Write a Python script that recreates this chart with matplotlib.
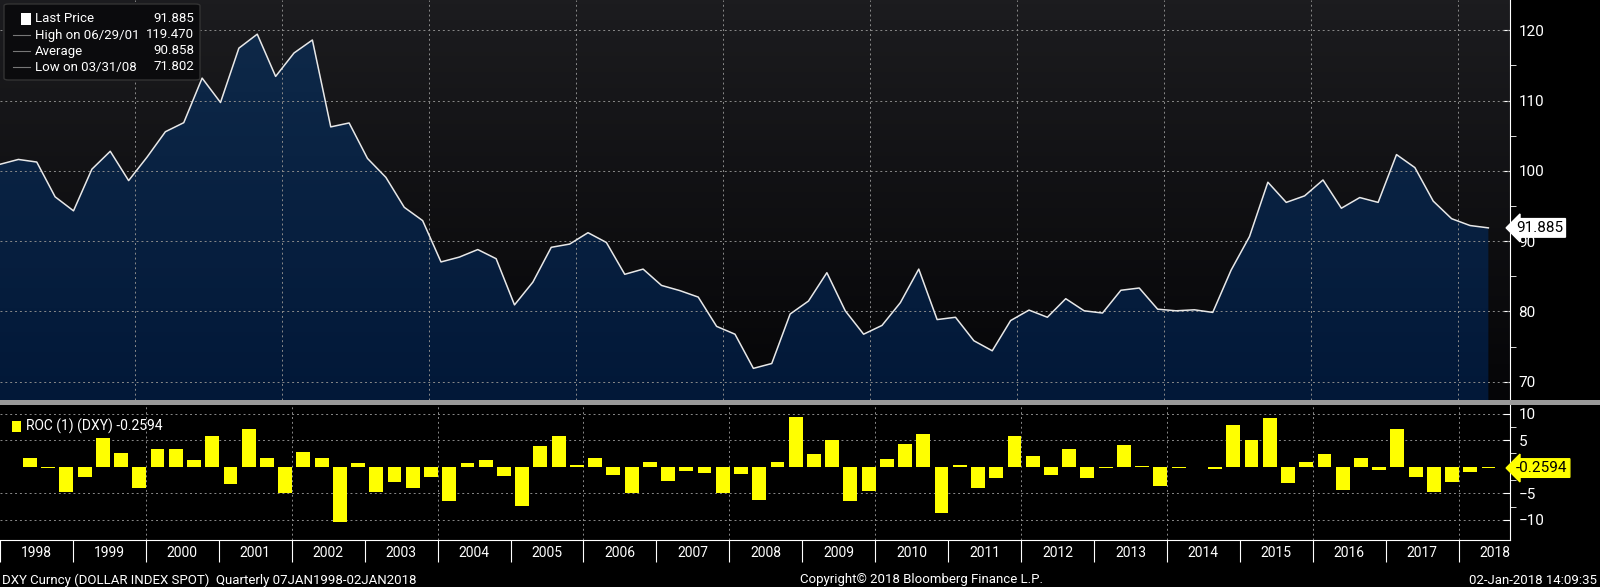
import matplotlib
matplotlib.use("Agg")
import matplotlib.pyplot as plt
import numpy as np
from matplotlib.patches import FancyBboxPatch, Rectangle

# DXY quarterly closes, 1998 -> Jan 2018
price = [100.93, 101.62, 101.25, 96.30, 94.31, 100.23, 102.78, 98.61, 101.94, 105.56,
         106.85, 113.19, 109.72, 117.45, 119.44, 113.43, 116.76, 118.61, 106.25, 106.81,
         101.76, 99.07, 94.81, 92.92, 87.04, 87.73, 88.80, 87.50, 80.93, 84.17,
         89.12, 89.58, 91.20, 89.81, 85.28, 86.02, 83.70, 82.96, 82.04, 77.87,
         76.76, 71.90, 72.59, 79.63, 81.48, 85.51, 80.09, 76.76, 78.01, 81.25,
         86.02, 78.84, 79.17, 75.83, 74.40, 78.70, 80.19, 79.17, 81.81, 80.09,
         79.77, 83.01, 83.33, 80.32, 80.09, 80.23, 79.86, 85.88, 90.65, 98.38,
         95.51, 96.44, 98.70, 94.68, 96.20, 95.51, 102.31, 100.46, 95.69, 93.19,
         92.22, 91.885]
roc = [1.7, -0.3, -4.8, -2.0, 5.3, 2.6, -4.1, 3.3, 3.3, 1.2,
       5.8, -3.3, 7.0, 1.7, -5.0, 2.8, 1.6, -10.4, 0.7, -4.7,
       -2.9, -4.1, -2.0, -6.4, 0.7, 1.2, -1.7, -7.4, 3.8, 5.8,
       0.35, 1.7, -1.5, -5.0, 0.9, -2.7, -0.8, -1.2, -5.0, -1.3,
       -6.2, 0.9, 9.4, 2.4, 5.1, -6.4, -4.5, 1.5, 4.2, 6.2,
       -8.7, 0.4, -4.1, -2.1, 5.8, 2.0, -1.6, 3.3, -2.1, -0.3,
       4.0, 0.2, -3.6, -0.3, -0.1, -0.5, 7.8, 5.1, 9.1, -3.0,
       0.9, 2.4, -4.3, 1.6, -0.7, 7.1, -1.9, -4.8, -2.8, -1.0,
       -0.2594]
years = list(range(1998, 2019))

START = 1998.16
xs = START + 0.25 * np.arange(len(price))
XL = (START, START + 1510 / 73.5)

W, H = 1600, 587
plt.rcParams["font.family"] = ["Roboto", "DejaVu Sans"]
fig = plt.figure(figsize=(16, 5.87), dpi=100, facecolor="black")
GRID = dict(color="#8a8a8a", ls=(0, (2, 3)), lw=0.7)
FS = 10

# ---- top panel ---------------------------------------------------------
ax = fig.add_axes([0, 1 - 400 / H, 1510 / W, 400 / H])
ax.set_xlim(*XL)
ax.set_ylim(67.4, 124.3)
bg = np.linspace(0, 1, 100).reshape(-1, 1)
ax.imshow(bg, extent=[*XL, 67.4, 124.3], aspect="auto", origin="lower", zorder=0,
          cmap=matplotlib.colors.LinearSegmentedColormap.from_list("bg", ["#050507", "#1c1c1f"]))
fill = ax.fill_between(xs, price, 60, color="none", lw=0)
grad = ax.imshow(bg, extent=[*XL, 67.4, 124.3], aspect="auto", origin="lower", zorder=1,
                 cmap=matplotlib.colors.LinearSegmentedColormap.from_list("f", ["#021838", "#0f2a4a"]))
grad.set_clip_path(fill.get_paths()[0], transform=ax.transData)
ax.plot(xs, price, color="#e8e8e8", lw=1.1, zorder=3)
for y in range(70, 121, 10):
    ax.axhline(y, zorder=2, **GRID)
for yr in range(2000, 2019, 2):
    ax.axvline(yr, zorder=2, **GRID)
ax.yaxis.tick_right()
ax.set_yticks(range(70, 121, 10))
ax.set_yticks(range(75, 121, 10), minor=True)
ax.set_xticks([])
ax.tick_params(axis="y", colors="white", labelsize=FS + 1, length=5, direction="in", pad=6)
ax.tick_params(axis="y", which="minor", colors="white", length=4)
for s in ax.spines.values():
    s.set_visible(False)
ax.spines["right"].set_visible(True)
ax.spines["right"].set_color("white")
ax.text(1.004, (price[-1] - 67.4) / (124.3 - 67.4), f"{price[-1]:.3f}", transform=ax.transAxes,
        color="black", fontsize=FS + 1, va="center", ha="left",
        bbox=dict(boxstyle="larrow,pad=0.15", fc="white", ec="white"), clip_on=False)

# legend box (top-left)
fig.add_artist(FancyBboxPatch((4 / W, 1 - 80 / H), 196 / W, 76 / H,
                              boxstyle="round,pad=0,rounding_size=0.003",
                              transform=fig.transFigure, fc="#0b0b0d", ec="#333333", zorder=5))
rows = [("Last Price", f"{price[-1]:.3f}"), ("High on 06/29/01", "119.470"),
        ("Average", "90.858"), ("Low on 03/31/08", "71.802")]
for i, (lab, val) in enumerate(rows):
    y = 1 - (19 + i * 16) / H
    fig.text(35 / W, y, lab, color="white", fontsize=9.5, va="center", zorder=6)
    fig.text(194 / W, y, val, color="white", fontsize=9.5, va="center", ha="right", zorder=6)
fig.add_artist(Rectangle((21 / W, 1 - 25 / H), 10 / W, 12 / H, transform=fig.transFigure,
                         fc="white", zorder=6))
for i in range(1, 4):
    y = 1 - (19 + i * 16) / H
    fig.add_artist(plt.Line2D([13 / W, 30 / W], [y, y], color="#777777", lw=0.8, zorder=6))

# separator
fig.add_artist(Rectangle((0, 1 - 405 / H), 1, 5 / H, transform=fig.transFigure, fc="#9a9a9a"))

# ---- bottom panel ------------------------------------------------------
ax2 = fig.add_axes([0, 47 / H, 1510 / W, 135 / H], facecolor="black")
ax2.set_xlim(*XL)
ax2.set_ylim(-13.8, 11.6)
ax2.bar(xs[1:], roc, width=0.19, color="#ffff00", zorder=3)
for y in (-10, -5, 5, 10):
    ax2.axhline(y, zorder=1, **GRID)
for yr in range(2000, 2019, 2):
    ax2.axvline(yr, zorder=1, **GRID)
ax2.yaxis.tick_right()
ax2.set_yticks([-10, -5, 5, 10])
ax2.set_yticks([-7.5, -2.5, 2.5, 7.5], minor=True)
ax2.tick_params(axis="y", colors="white", labelsize=FS + 1, length=5, direction="in", pad=6)
ax2.tick_params(axis="y", which="minor", colors="white", length=4)
ax2.set_xticks(years)
ax2.set_xticklabels([])
ax2.set_xticks([y + 0.5 for y in years], minor=True)
ax2.set_xticklabels([str(y) for y in years], minor=True)
ax2.tick_params(axis="x", colors="white", length=16, width=0.8, direction="out")
ax2.tick_params(axis="x", which="minor", length=0, labelsize=FS, labelcolor="white", pad=4)
for s in ax2.spines.values():
    s.set_visible(False)
ax2.spines["right"].set_visible(True)
ax2.spines["right"].set_color("white")
ax2.spines["bottom"].set_visible(True)
ax2.spines["bottom"].set_color("white")
ax2.text(1.004, (roc[-1] + 13.8) / 25.4, f"{roc[-1]:.4f}", transform=ax2.transAxes,
         color="black", fontsize=FS + 1, va="center", ha="left",
         bbox=dict(boxstyle="larrow,pad=0.15", fc="#ffff00", ec="#ffff00"), clip_on=False)
ax2.add_patch(Rectangle((12 / 1510, 0.8), 9 / 1510, 0.08, transform=ax2.transAxes,
                        fc="#ffff00", zorder=6))
ax2.text(26 / 1510, 0.84, f"ROC (1) (DXY) {roc[-1]:.4f}", transform=ax2.transAxes,
         color="white", fontsize=FS, va="center", zorder=6)

# footer
fig.text(2 / W, 7 / H, "DXY Curncy (DOLLAR INDEX SPOT)  Quarterly 07JAN1998-02JAN2018",
         color="white", fontsize=FS - 0.5, va="center")
fig.text(800 / W, 7 / H, "Copyright\u00a9 2018 Bloomberg Finance L.P.", color="white",
         fontsize=FS - 0.5, va="center")
fig.text(1597 / W, 7 / H, "02-Jan-2018 14:09:35", color="white", fontsize=FS - 0.5,
         va="center", ha="right")

fig.savefig("out.png", dpi=100, facecolor="black")
